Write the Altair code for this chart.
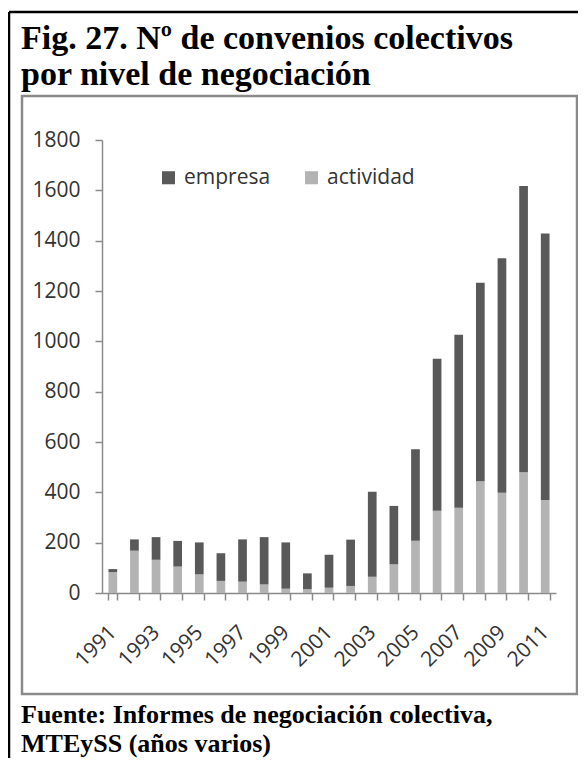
import altair as alt
import pandas as pd

# ---- data ----
years = [str(y) for y in range(1991, 2012)]
total = [95, 213, 222, 207, 201, 158, 213, 222, 201, 78, 152, 212,
         402, 346, 571, 931, 1026, 1233, 1330, 1617, 1428]
actividad = [83, 168, 132, 105, 74, 48, 45, 34, 17, 15, 21, 28,
             65, 114, 208, 327, 339, 444, 398, 480, 370]
empresa = [t - a for t, a in zip(total, actividad)]

series_names = ["empresa", "actividad"]
series_colors = ["#595959", "#b3b3b3"]
y_ticks = [0, 200, 400, 600, 800, 1000, 1200, 1400, 1600, 1800]

title_lines = ["Fig. 27. Nº de convenios colectivos", "por nivel de negociación"]
source_lines = ["Fuente: Informes de negociación colectiva,", "MTEySS (años varios)"]

rows = []
for i, yr in enumerate(years):
    rows.append({"anio": yr, "nivel": "actividad", "orden": 0, "valor": actividad[i]})
    rows.append({"anio": yr, "nivel": "empresa", "orden": 1, "valor": empresa[i]})
df = pd.DataFrame(rows)

one = pd.DataFrame({"k": [0]})

W, H = 454, 453
AX_FONT = "Open Sans"
SERIF = "Liberation Serif"

bars = alt.Chart(df).mark_bar(size=8.7).encode(
    x=alt.X("anio:O", sort=years,
            scale=alt.Scale(paddingInner=0.6, paddingOuter=0.3),
            axis=alt.Axis(title=None, labelAngle=-45, labelAlign="right",
                          labelBaseline="middle",
                          labelExpr="toNumber(datum.value) % 2 == 1 ? datum.value : ''",
                          tickBand="extent", tickSize=7, tickColor="#8a8a8a",
                          tickWidth=1.5, domainColor="#8a8a8a", domainWidth=1.5,
                          labelFont=AX_FONT, labelFontSize=21, labelColor="#333333",
                          labelPadding=29, labelOverlap=False, grid=False)),
    y=alt.Y("valor:Q", stack="zero",
            scale=alt.Scale(domain=[0, 1800], nice=False),
            axis=alt.Axis(title=None, values=y_ticks, format="d", tickSize=7,
                          tickColor="#8a8a8a", tickWidth=1.5,
                          domainColor="#8a8a8a", domainWidth=1.5,
                          labelFont=AX_FONT, labelFontSize=21, labelColor="#333333",
                          labelPadding=15, grid=False)),
    color=alt.Color("nivel:N",
                    scale=alt.Scale(domain=series_names, range=series_colors),
                    legend=alt.Legend(title=None, orient="none", legendX=56, legendY=27,
                                      direction="horizontal", symbolType="square",
                                      symbolSize=170, symbolStrokeWidth=0,
                                      labelFont=AX_FONT, labelFontSize=21,
                                      labelColor="#333333", labelOffset=5,
                                      columnPadding=30)),
    order=alt.Order("orden:Q"),
)

# frame decorations
inner_box = alt.Chart(one).mark_rect(fill=None, stroke="#8a8a8a", strokeWidth=2.5).encode(
    x=alt.value(-80), x2=alt.value(475), y=alt.value(-44), y2=alt.value(554))

outer_left = alt.Chart(one).mark_rule(color="black", strokeWidth=2.5).encode(
    x=alt.value(-93), y=alt.value(-128), y2=alt.value(640))
outer_right = alt.Chart(one).mark_rule(color="black", strokeWidth=2.5).encode(
    x=alt.value(481), y=alt.value(-128), y2=alt.value(640))
outer_top = alt.Chart(one).mark_rule(color="black", strokeWidth=2.5).encode(
    x=alt.value(-93), x2=alt.value(481), y=alt.value(-128))

def text_line(txt, ypos, size):
    return alt.Chart(one).mark_text(align="left", baseline="alphabetic",
                                    font=SERIF, fontWeight="bold", fontSize=size,
                                    color="black").encode(
        x=alt.value(-81), y=alt.value(ypos), text=alt.value(txt))

t1 = text_line(title_lines[0], -91, 34)
t2 = text_line(title_lines[1], -55, 34)
s1 = text_line(source_lines[0], 583, 26)
s2 = text_line(source_lines[1], 612, 26)

chart = alt.layer(inner_box, bars, outer_left, outer_right, outer_top,
                  t1, t2, s1, s2).properties(
    width=W, height=H,
    autosize=alt.AutoSizeParams(type="none"),
    padding={"left": 94, "top": 132, "right": 22, "bottom": 165},
).configure_view(stroke=None)

chart.save("out.html", embed_options={"renderer": "svg", "actions": False})
